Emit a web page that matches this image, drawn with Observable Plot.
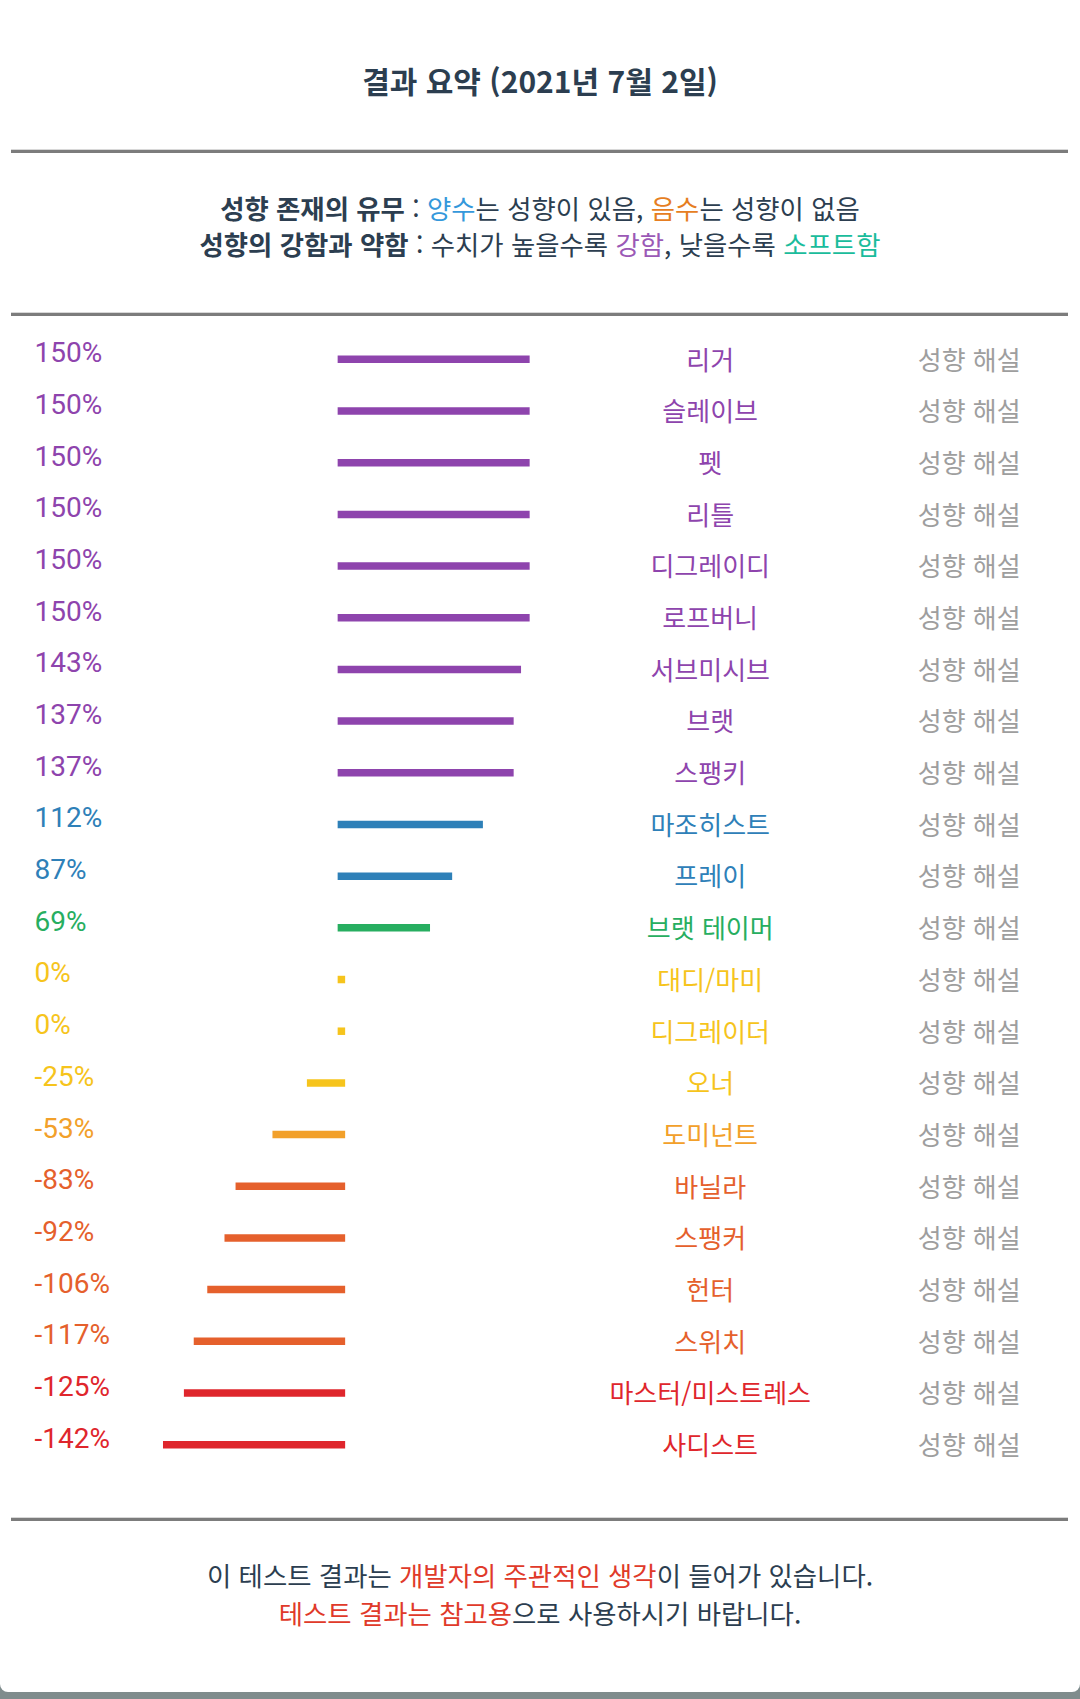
<!DOCTYPE html>
<html lang="ko">
<head>
<meta charset="utf-8">
<script src="https://cdn.jsdelivr.net/npm/d3@7"></script>
<script src="https://cdn.jsdelivr.net/npm/@observablehq/plot@0.6"></script>
<style>
  html, body { margin: 0; padding: 0; }
  body { width: 1080px; height: 1699px; background: #7f8c8d; overflow: hidden; font-family: "Noto Sans CJK KR", "Noto Sans", sans-serif; }
  #card { position: absolute; left: 0; top: 0; width: 1080px; height: 1692px; background: #fff; border-radius: 0 0 8px 8px; }
  .line { position: absolute; left: 0; width: 1080px; text-align: center; white-space: nowrap; color: #2c3e50; }
  .title { top: 60px; height: 40px; line-height: 40px; font-size: 30px; font-weight: 700; }
  .legend { font-size: 26.4px; height: 36px; line-height: 36px; }
  .legend b { font-weight: 700; }
  .divider { position: absolute; left: 11px; width: 1057px; height: 3px; background: #7c7c7c; box-shadow: 0 -1px 0 #d8d8d8; }
  #chart { position: absolute; left: 0; top: 316px; }
  .blue { color: #3498db; } .orange { color: #e67e22; } .purple { color: #9b59b6; } .teal { color: #1abc9c; } .red { color: #e03a2a; }
</style>
</head>
<body>
<div id="card">
  <div class="line title">결과 요약 (2021년 7월 2일)</div>
  <div class="divider" style="top:150px"></div>
  <div class="line legend" style="top:190px"><b>성향 존재의 유무</b> : <span class="blue">양수</span>는 성향이 있음, <span class="orange">음수</span>는 성향이 없음</div>
  <div class="line legend" style="top:226px"><b>성향의 강함과 약함</b> : 수치가 높을수록 <span class="purple">강함</span>, 낮을수록 <span class="teal">소프트함</span></div>
  <div class="divider" style="top:313px"></div>
  <div id="chart"></div>
  <div class="divider" style="top:1518px"></div>
  <div class="line legend" style="top:1557px">이 테스트 결과는 <span class="red">개발자의 주관적인 생각</span>이 들어가 있습니다.</div>
  <div class="line legend" style="top:1595px"><span class="red">테스트 결과는 참고용</span>으로 사용하시기 바랍니다.</div>
</div>
<script>
const names = ["리거", "슬레이브", "펫", "리틀", "디그레이디", "로프버니", "서브미시브", "브랫", "스팽키", "마조히스트", "프레이", "브랫 테이머", "대디/마미", "디그레이더", "오너", "도미넌트", "바닐라", "스팽커", "헌터", "스위치", "마스터/미스트레스", "사디스트"];
const values = [150, 150, 150, 150, 150, 150, 143, 137, 137, 112, 87, 69, 0, 0, -25, -53, -83, -92, -106, -117, -125, -142];
const valueLabels = ["150%", "150%", "150%", "150%", "150%", "150%", "143%", "137%", "137%", "112%", "87%", "69%", "0%", "0%", "-25%", "-53%", "-83%", "-92%", "-106%", "-117%", "-125%", "-142%"];
const linkLabel = "성향 해설";
const tierThresholds = [-120, -70, -40, 1, 80, 120];
const tierColors = ["#df262c", "#e5602c", "#f2a02a", "#f6c41c", "#27ae60", "#2e80b8", "#8e44ad"];

const data = names.map((name, i) => ({name, value: values[i], label: valueLabels[i]}));

const chart = Plot.plot({
  width: 1080,
  height: 1194,
  marginTop: 17,
  marginBottom: 40,
  marginLeft: 0,
  marginRight: 0,
  style: {background: "transparent"},
  x: {domain: [-277.56, 600.49], axis: null},
  y: {type: "point", domain: names, axis: null, padding: 0.5, round: false},
  color: {type: "threshold", domain: tierThresholds, range: tierColors},
  marks: [
    Plot.ruleY(data, {y: "name", x1: 0, x2: "value", stroke: "value", strokeWidth: 7.5, strokeLinecap: "square"}),
    Plot.text(data, {y: "name", text: "label", fill: "value", frameAnchor: "left", dx: 34, dy: -6, textAnchor: "start", fontSize: 28, fontFamily: "Roboto"}),
    Plot.text(data, {y: "name", text: "name", fill: "value", frameAnchor: "left", dx: 709.7, dy: 2, textAnchor: "middle", fontSize: 26, fontFamily: "Noto Sans CJK KR"}),
    Plot.text(data, {y: "name", text: () => linkLabel, fill: "#9e9e9e", frameAnchor: "left", dx: 968.7, dy: 2, textAnchor: "middle", fontSize: 26, fontFamily: "Noto Sans CJK KR"})
  ]
});
document.getElementById("chart").appendChild(chart);
</script>
</body>
</html>
